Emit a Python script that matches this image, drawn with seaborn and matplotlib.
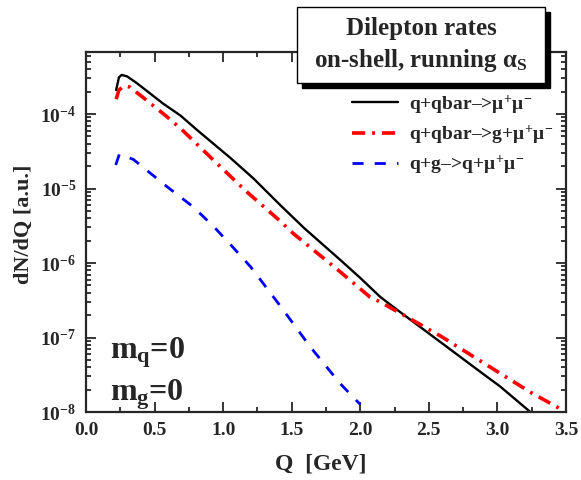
import numpy as np
import pandas as pd
import matplotlib
matplotlib.use('Agg')
import matplotlib.pyplot as plt
import seaborn as sns
from matplotlib.patches import Rectangle
from matplotlib.ticker import MultipleLocator, FormatStrFormatter, LogLocator, FuncFormatter

# values
q_qqbar = [0.22, 0.24, 0.26, 0.30, 0.37, 0.45, 0.56, 0.69, 0.81, 1.05, 1.22, 1.42, 1.59, 1.854, 2.0,
           2.146, 2.29, 2.584, 2.90, 3.02, 3.24]
dn_qqbar = [2.1e-4, 3.1e-4, 3.35e-4, 3.2e-4, 2.6e-4, 2.0e-4, 1.39e-4, 9.5e-5, 6.1e-5, 2.6e-5, 1.37e-5,
            5.9e-6, 2.95e-6, 1.1e-6, 6.3e-7, 3.5e-7, 2.2e-7, 8.7e-8, 3.2e-8, 2.2e-8, 1.0e-8]

q_qqbar_g = [0.22, 0.24, 0.28, 0.32, 0.44, 0.59, 0.69, 0.93, 1.17, 1.42, 1.51, 1.854, 2.07, 2.146,
             2.584, 3.02, 3.25, 3.50]
dn_qqbar_g = [1.58e-4, 2.1e-4, 2.4e-4, 2.3e-4, 1.54e-4, 9.2e-5, 6.4e-5, 2.4e-5, 9.1e-6, 3.6e-6, 2.5e-6,
              7.6e-7, 3.5e-7, 3.0e-7, 1.05e-7, 3.3e-8, 1.8e-8, 1.0e-8]

q_qg = [0.217, 0.243, 0.345, 0.59, 0.78, 0.93, 1.075, 1.20, 1.42, 1.635, 1.854, 2.0]
dn_qg = [2.07e-5, 2.88e-5, 2.46e-5, 1.06e-5, 5.7e-6, 3.1e-6, 1.6e-6, 8.9e-7, 2.6e-7, 7.5e-8, 2.4e-8, 1.26e-8]

labels = [r'q+qbar–>$\mu^{+}\mu^{-}$', r'q+qbar–>g+$\mu^{+}\mu^{-}$', r'q+g–>q+$\mu^{+}\mu^{-}$']
decades = [1e-8, 1e-7, 1e-6, 1e-5, 1e-4]

sns.set_style('ticks')
plt.rcParams['font.family'] = ['Liberation Serif', 'DejaVu Serif']
plt.rcParams['font.weight'] = 'bold'
plt.rcParams['mathtext.fontset'] = 'custom'
plt.rcParams['mathtext.rm'] = 'Liberation Serif:bold'
plt.rcParams['mathtext.it'] = 'Liberation Serif:bold'
plt.rcParams['mathtext.bf'] = 'Liberation Serif:bold'
plt.rcParams['lines.scale_dashes'] = False

fig = plt.figure(figsize=(5.81, 4.8), dpi=100)
ax = fig.add_axes([86/581, 1-412/480, 480/581, 360/480])

sns.lineplot(x=q_qqbar, y=dn_qqbar, ax=ax, color='black', lw=1.7, label=labels[0], sort=False)
sns.lineplot(x=q_qqbar_g, y=dn_qqbar_g, ax=ax, color='red', lw=2.6, label=labels[1], sort=False)
sns.lineplot(x=q_qg, y=dn_qg, ax=ax, color='blue', lw=2.0, label=labels[2], sort=False)
ax.lines[1].set_dashes((9.5, 5, 2, 5))
ax.lines[2].set_dashes((8, 8))

ax.set_yscale('log')
ax.set_xlim(0, 3.5)
ax.set_ylim(1e-8, 6.8e-4)
ax.xaxis.set_major_locator(MultipleLocator(0.5))
ax.xaxis.set_minor_locator(MultipleLocator(0.25))
ax.xaxis.set_major_formatter(FormatStrFormatter('%.1f'))
ax.yaxis.set_minor_locator(LogLocator(base=10, subs=np.arange(2, 10)))
ax.set_yticks(decades)
ax.yaxis.set_major_formatter(FuncFormatter(lambda v, p: r'$10^{%d}$' % round(np.log10(v))))

for s in ax.spines.values():
    s.set_linewidth(1.6)
    s.set_visible(True)
ax.tick_params(which='both', direction='in', top=True, right=True, width=1.3, labelsize=14)
ax.tick_params(which='major', length=7, pad=7)
ax.tick_params(which='minor', length=3.5)

ax.set_xlabel('Q  [GeV]', fontsize=17, fontweight='bold', va='center')
ax.xaxis.set_label_coords(0.49, -0.144)
ax.set_ylabel('dN/dQ [a.u.]', fontsize=16, fontweight='bold', va='center')
ax.yaxis.set_label_coords(-0.129, 0.52)

leg = ax.legend(loc='upper left', bbox_to_anchor=(352/581, 1-93/480), bbox_transform=fig.transFigure,
                frameon=False, fontsize=14, handlelength=2.36, handletextpad=0.55,
                labelspacing=0.4, borderpad=0, borderaxespad=0)

ax.text(110/581, 1-358/480, r'$m_q$=0', transform=fig.transFigure, fontsize=23, fontweight='bold', va='baseline')
ax.text(110/581, 1-400/480, r'$m_g$=0', transform=fig.transFigure, fontsize=23, fontweight='bold', va='baseline')

# title box with a shadow
fig.patches.append(Rectangle((302/581, 1-88/480), 248/581, 76/480, transform=fig.transFigure,
                             facecolor='black', edgecolor='black', zorder=5))
fig.patches.append(Rectangle((297/581, 1-83/480), 248/581, 76/480, transform=fig.transFigure,
                             facecolor='white', edgecolor='black', lw=1.0, zorder=6))
fig.text(421/581, 1-28/480, 'Dilepton rates', ha='center', va='center', fontsize=18, fontweight='bold', zorder=7)
fig.text(421/581, 1-61/480, r'on-shell, running $\alpha_S$', ha='center', va='center', fontsize=18,
         fontweight='bold', zorder=7)

fig.savefig('out.png', dpi=100)
